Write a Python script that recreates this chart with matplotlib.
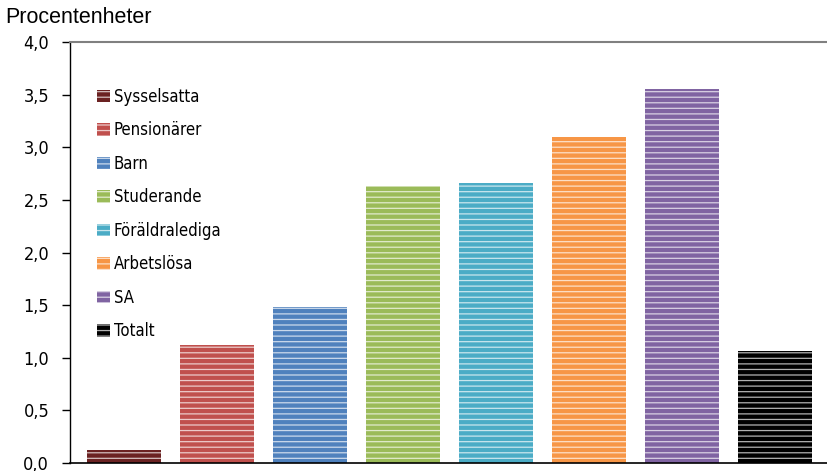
import matplotlib
matplotlib.use('Agg')
import matplotlib.pyplot as plt
from matplotlib.ticker import FuncFormatter

# データ
categories = ['Sysselsatta', 'Pensionärer', 'Barn', 'Studerande',
              'Föräldralediga', 'Arbetslösa', 'SA', 'Totalt']
values = [0.12, 1.12, 1.48, 2.63, 2.66, 3.10, 3.55, 1.06]
colors = ['#6B2222', '#C0504D', '#4F81BD', '#9BBB59',
          '#4BACC6', '#F79646', '#8064A2', '#000000']

plt.rcParams['font.family'] = ['DejaVu Sans']
plt.rcParams['font.stretch'] = 'condensed'
plt.rcParams['hatch.linewidth'] = 0.9

fig = plt.figure(figsize=(8.28, 4.71), dpi=100)
ax = fig.add_axes([0.0845, 0.017, 0.9155, 0.8938])

for i, (cat, val, col) in enumerate(zip(categories, values, colors)):
    ax.bar(i, val, width=0.8, color=col, edgecolor=(1, 1, 1, 0.7), linewidth=0,
           hatch='---', label=cat)

ax.set_xlim(-0.58, 7.57)
ax.set_ylim(0, 4)
ax.set_yticks([i * 0.5 for i in range(9)])
ax.yaxis.set_major_formatter(FuncFormatter(lambda v, p: f'{v:.1f}'.replace('.', ',')))
ax.set_xticks([])
ax.tick_params(axis='y', length=6, width=1, labelsize=13, direction='out', pad=9)

ax.spines['right'].set_visible(False)
ax.spines['top'].set_color('#808080')
ax.spines['top'].set_linewidth(1.5)
ax.spines['left'].set_linewidth(1)
ax.spines['bottom'].set_linewidth(1.2)

ax.legend(loc='upper left', bbox_to_anchor=(0.027, 0.907), frameon=False,
          fontsize=12, handlelength=0.75, handleheight=0.75, handletextpad=0.25,
          labelspacing=0.93, borderaxespad=0)

fig.text(0.006, 0.962, 'Procentenheter', fontsize=15.5, family='Liberation Sans',
         stretch='normal', va='center', ha='left')

fig.savefig('out.png', dpi=100)
